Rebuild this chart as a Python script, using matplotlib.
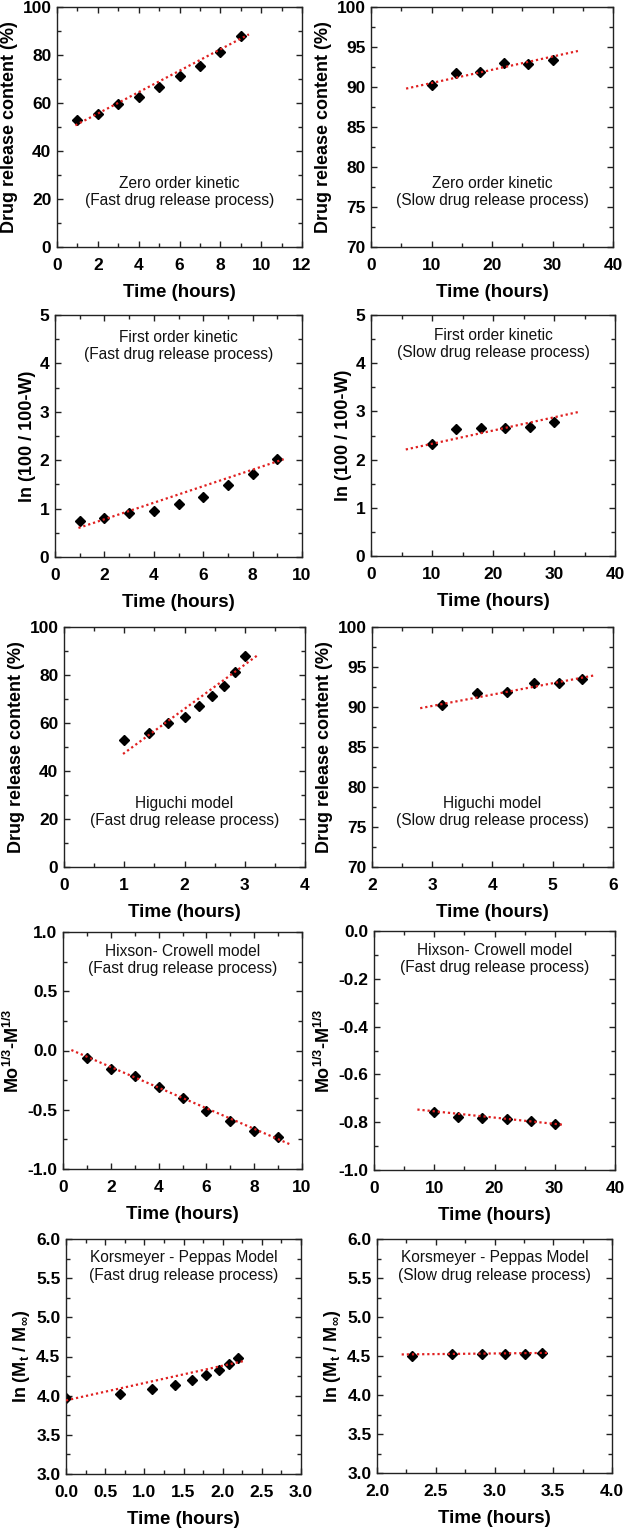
import matplotlib
matplotlib.use("Agg")
import matplotlib.pyplot as plt
import matplotlib.ticker as mticker

plt.rcParams["font.family"] = ["Liberation Sans", "DejaVu Sans"]
plt.rcParams["mathtext.fontset"] = "custom"
plt.rcParams["mathtext.rm"] = "Liberation Sans:bold"
plt.rcParams["mathtext.it"] = "Liberation Sans:bold"
plt.rcParams["mathtext.bf"] = "Liberation Sans:bold"
plt.rcParams["mathtext.default"] = "bf"
plt.rcParams["axes.unicode_minus"] = False

# ---------------------------------------------------------------------------
# Data
# ---------------------------------------------------------------------------

# Zero order kinetic
zero_fast_t = [1, 2, 3, 4, 5, 6, 7, 8, 9]
zero_fast_y = [52.8, 55.4, 59.7, 62.4, 66.7, 71.3, 75.6, 81.3, 88.1]
zero_fast_fit_t = [0.9, 9.4]
zero_fast_fit_y = [50.7, 88.6]

zero_slow_t = [10, 14, 18, 22, 26, 30]
zero_slow_y = [90.2, 91.8, 91.9, 93.0, 92.9, 93.4]
zero_slow_fit_t = [5.8, 34.2]
zero_slow_fit_y = [89.8, 94.5]

# First order kinetic
first_fast_t = [1, 2, 3, 4, 5, 6, 7, 8, 9]
first_fast_y = [0.74, 0.80, 0.91, 0.96, 1.09, 1.24, 1.48, 1.71, 2.03]
first_fast_fit_t = [0.95, 9.26]
first_fast_fit_y = [0.60, 2.02]

first_slow_t = [10, 14, 18, 22, 26, 30]
first_slow_y = [2.32, 2.64, 2.65, 2.66, 2.68, 2.79]
first_slow_fit_t = [5.7, 34.1]
first_slow_fit_y = [2.21, 2.99]

# Higuchi model
hig_fast_t = [1.00, 1.41, 1.73, 2.00, 2.24, 2.45, 2.65, 2.83, 3.00]
hig_fast_y = [52.9, 55.7, 59.9, 62.7, 66.9, 71.3, 75.5, 81.2, 88.0]
hig_fast_fit_t = [0.98, 3.2]
hig_fast_fit_y = [47.1, 88.0]

hig_slow_t = [3.16, 3.74, 4.24, 4.69, 5.10, 5.48]
hig_slow_y = [90.2, 91.8, 91.9, 93.0, 93.0, 93.5]
hig_slow_fit_t = [2.8, 5.71]
hig_slow_fit_y = [89.85, 93.98]

# Hixson-Crowell model
hix_fast_t = [1, 2, 3, 4, 5, 6, 7, 8, 9]
hix_fast_y = [-0.06, -0.156, -0.217, -0.304, -0.397, -0.512, -0.593, -0.677, -0.733]
hix_fast_fit_t = [0.35, 9.48]
hix_fast_fit_y = [0.004, -0.79]

hix_slow_t = [10, 14, 18, 22, 26, 30]
hix_slow_y = [-0.759, -0.780, -0.783, -0.787, -0.794, -0.806]
hix_slow_fit_t = [7.2, 31.5]
hix_slow_fit_y = [-0.747, -0.811]

# Korsmeyer-Peppas model
kp_fast_t = [0.0, 0.69, 1.10, 1.39, 1.61, 1.79, 1.95, 2.08, 2.20]
kp_fast_y = [3.97, 4.02, 4.09, 4.13, 4.20, 4.27, 4.33, 4.40, 4.48]
kp_fast_fit_t = [0.0, 2.26]
kp_fast_fit_y = [3.94, 4.44]

kp_slow_t = [2.30, 2.64, 2.89, 3.09, 3.26, 3.40]
kp_slow_y = [4.50, 4.52, 4.52, 4.53, 4.53, 4.54]
kp_slow_fit_t = [2.21, 3.47]
kp_slow_fit_y = [4.52, 4.54]

DRUG = "Drug release content (%)"
FIRST = "ln (100 / 100-W)"
HIX = r"Mo$^{1/3}$-M$^{1/3}$"
KP = r"ln (M$_t$ / M$_\infty$)"
TIME = "Time (hours)"

RED = "#e02020"
W, H = 625, 1529

fig = plt.figure(figsize=(W / 100, H / 100), dpi=100)


def add_axes(l, r, t, b):
    return fig.add_axes([l / W, 1 - b / H, (r - l) / W, (b - t) / H])


def draw_panel(ax, t, y, fit_t, fit_y, xlim, xstep, ylim, ystep,
               ylabel, note, note_y, fmt=None):
    ax.plot(t, y, linestyle="none", marker="D", markersize=5,
            color="black", zorder=2)
    ax.plot(fit_t, fit_y, linestyle=(0, (1, 1.3)), color=RED,
            linewidth=1.6, zorder=3)
    ax.set_xlim(*xlim)
    ax.set_ylim(*ylim)
    ax.xaxis.set_major_locator(mticker.MultipleLocator(xstep))
    ax.xaxis.set_minor_locator(mticker.MultipleLocator(xstep / 2))
    ax.yaxis.set_major_locator(mticker.MultipleLocator(ystep))
    ax.yaxis.set_minor_locator(mticker.MultipleLocator(ystep / 2))
    if fmt is not None:
        ax.xaxis.set_major_formatter(mticker.FormatStrFormatter(fmt[0]))
        ax.yaxis.set_major_formatter(mticker.FormatStrFormatter(fmt[1]))
    ax.tick_params(which="both", direction="in", top=True, right=True,
                   color="#222222", width=1)
    ax.tick_params(which="major", length=4.5)
    ax.tick_params(which="minor", length=3)
    ax.tick_params(axis="x", which="major", pad=8)
    ax.tick_params(axis="y", which="major", pad=4)
    for lab in ax.get_xticklabels() + ax.get_yticklabels():
        lab.set_fontsize(12.5)
        lab.set_fontweight("bold")
    for sp in ax.spines.values():
        sp.set_color("#222222")
        sp.set_linewidth(1)
    ax.set_xlabel(TIME, fontsize=13.5, fontweight="bold", labelpad=8)
    ax.set_ylabel(ylabel, fontsize=13, fontweight="bold", labelpad=3)
    ax.text(0.5, note_y, note, transform=ax.transAxes, ha="center",
            va="center", fontsize=11.2, linespacing=1.2, color="#111111")


fast = "(Fast drug release process)"
slow = "(Slow drug release process)"

ax = add_axes(57, 302, 7, 247)
draw_panel(ax, zero_fast_t, zero_fast_y, zero_fast_fit_t, zero_fast_fit_y,
           (0, 12), 2, (0, 100), 20, DRUG,
           "Zero order kinetic\n" + fast, 0.23)

ax = add_axes(371, 613, 7, 247)
draw_panel(ax, zero_slow_t, zero_slow_y, zero_slow_fit_t, zero_slow_fit_y,
           (0, 40), 10, (70, 100), 5, DRUG,
           "Zero order kinetic\n" + slow, 0.23)

ax = add_axes(55, 302, 315, 557)
draw_panel(ax, first_fast_t, first_fast_y, first_fast_fit_t, first_fast_fit_y,
           (0, 10), 2, (0, 5), 1, FIRST,
           "First order kinetic\n" + fast, 0.872)

ax = add_axes(371, 615, 315, 556)
draw_panel(ax, first_slow_t, first_slow_y, first_slow_fit_t, first_slow_fit_y,
           (0, 40), 10, (0, 5), 1, FIRST,
           "First order kinetic\n" + slow, 0.88)

ax = add_axes(64, 305, 627, 867)
draw_panel(ax, hig_fast_t, hig_fast_y, hig_fast_fit_t, hig_fast_fit_y,
           (0, 4), 1, (0, 100), 20, DRUG,
           "Higuchi model\n" + fast, 0.23)

ax = add_axes(372, 613, 627, 867)
draw_panel(ax, hig_slow_t, hig_slow_y, hig_slow_fit_t, hig_slow_fit_y,
           (2, 6), 1, (70, 100), 5, DRUG,
           "Higuchi model\n" + slow, 0.23)

ax = add_axes(63, 302, 932, 1169)
draw_panel(ax, hix_fast_t, hix_fast_y, hix_fast_fit_t, hix_fast_fit_y,
           (0, 10), 2, (-1, 1), 0.5, HIX,
           "Hixson- Crowell model\n" + fast, 0.882, fmt=("%d", "%.1f"))

ax = add_axes(374, 615, 931, 1170)
draw_panel(ax, hix_slow_t, hix_slow_y, hix_slow_fit_t, hix_slow_fit_y,
           (0, 40), 10, (-1, 0), 0.2, HIX,
           "Hixson- Crowell model\n" + fast, 0.882, fmt=("%d", "%.1f"))

ax = add_axes(66, 301, 1239, 1474)
draw_panel(ax, kp_fast_t, kp_fast_y, kp_fast_fit_t, kp_fast_fit_y,
           (0, 3), 0.5, (3, 6), 0.5, KP,
           "Korsmeyer - Peppas Model\n" + fast, 0.883, fmt=("%.1f", "%.1f"))

ax = add_axes(377, 612, 1239, 1473)
draw_panel(ax, kp_slow_t, kp_slow_y, kp_slow_fit_t, kp_slow_fit_y,
           (2, 4), 0.5, (3, 6), 0.5, KP,
           "Korsmeyer - Peppas Model\n" + slow, 0.883, fmt=("%.1f", "%.1f"))

fig.savefig("out.png", dpi=100, facecolor="white")
